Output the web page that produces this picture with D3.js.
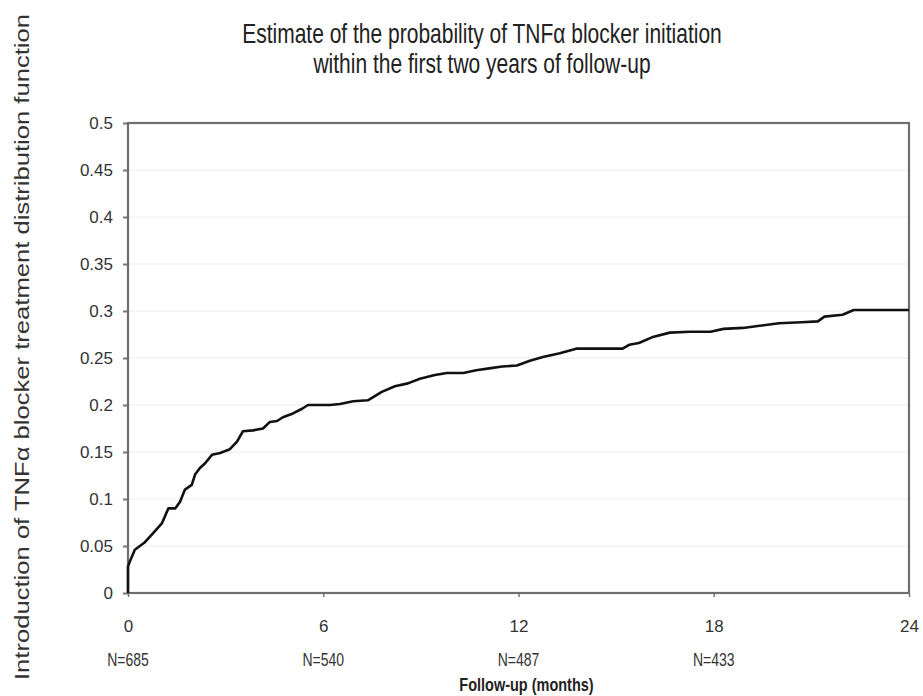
<!DOCTYPE html>
<html>
<head>
<meta charset="utf-8">
<script src="https://cdn.jsdelivr.net/npm/d3@7"></script>
<style>
  html, body { margin: 0; padding: 0; background: #fff; }
  svg { display: block; }
  text { font-family: "Liberation Sans", Arial, sans-serif; }
</style>
</head>
<body>
<svg id="chart" width="923" height="696"></svg>
<script>
// ---- data ----
const titleLines = ["Estimate of the probability of TNF\u03B1 blocker initiation",
                    "within the first two years of follow-up"];
const yAxisTitle = "Introduction of TNF\u03B1 blocker treatment distribution function";
const xAxisTitle = "Follow-up (months)";
const xTickValues = [0, 6, 12, 18, 24];
const yTickValues = [0, 0.05, 0.1, 0.15, 0.2, 0.25, 0.3, 0.35, 0.4, 0.45, 0.5];
const atRiskMonths = [0, 6, 12, 18];
const atRiskLabels = ["N=685", "N=540", "N=487", "N=433"];
const months = [0, 0, 0.05, 0.21, 0.52, 0.78, 1.04, 1.24, 1.45, 1.60, 1.75, 1.96, 2.06, 2.21, 2.37, 2.58,
  2.83, 3.13, 3.35, 3.53, 3.84, 4.15, 4.36, 4.58, 4.76, 5.07, 5.35, 5.53, 6.20, 6.51, 6.92, 7.37,
  7.80, 8.20, 8.60, 8.97, 9.43, 9.80, 10.30, 10.70, 11.10, 11.50, 11.95, 12.35, 12.75, 13.27, 13.80,
  15.20, 15.40, 15.70, 16.10, 16.65, 17.26, 17.90, 18.30, 18.90, 19.35, 20.00, 20.70, 21.20, 21.40,
  21.96, 22.30, 24.00];
const probability = [0, 0.028, 0.033, 0.046, 0.054, 0.064, 0.074, 0.090, 0.090, 0.097, 0.110, 0.115, 0.126, 0.133, 0.138, 0.147,
  0.149, 0.153, 0.161, 0.172, 0.173, 0.175, 0.182, 0.183, 0.187, 0.191, 0.196, 0.200, 0.200, 0.201, 0.204, 0.205,
  0.214, 0.220, 0.223, 0.228, 0.232, 0.234, 0.234, 0.237, 0.239, 0.241, 0.242, 0.247, 0.251, 0.255, 0.260,
  0.260, 0.264, 0.266, 0.272, 0.277, 0.278, 0.278, 0.281, 0.282, 0.284, 0.287, 0.288, 0.289, 0.294,
  0.296, 0.301, 0.301];

// ---- layout ----
const svg = d3.select("#chart");
const pLeft = 128, pRight = 909, pTop = 123, pBottom = 593;
const x = d3.scaleLinear().domain([0, 24]).range([pLeft, pRight]);
const y = d3.scaleLinear().domain([0, 0.5]).range([pBottom, pTop]);
const stretch = 1.3; // text in the source appears vertically elongated

// gridlines
svg.append("g")
  .selectAll("line")
  .data(yTickValues.filter(v => v > 0 && v < 0.5))
  .join("line")
  .attr("x1", pLeft).attr("x2", pRight)
  .attr("y1", d => y(d)).attr("y2", d => y(d))
  .attr("stroke", "#ececec").attr("stroke-width", 1);

// y axis
const yAxis = d3.axisLeft(y).tickValues(yTickValues).tickSize(5).tickPadding(10)
  .tickFormat(d => String(+d.toFixed(2)));
const gy = svg.append("g").attr("transform", `translate(${pLeft},0)`).call(yAxis);
gy.select(".domain").remove();
gy.selectAll(".tick line").attr("stroke", "#777").attr("stroke-width", 2);
gy.selectAll(".tick text").attr("font-size", 17).attr("fill", "#333");

// x axis
const xAxis = d3.axisBottom(x).tickValues(xTickValues).tickSize(4).tickPadding(23);
const gx = svg.append("g").attr("transform", `translate(0,${pBottom})`).call(xAxis);
gx.select(".domain").remove();
gx.selectAll(".tick line").attr("stroke", "#777").attr("stroke-width", 1.5);
gx.selectAll(".tick text").attr("font-size", 17).attr("fill", "#333");

// plot frame
svg.append("rect")
  .attr("x", pLeft).attr("y", pTop)
  .attr("width", pRight - pLeft).attr("height", pBottom - pTop)
  .attr("fill", "none").attr("stroke", "#6e6e6e").attr("stroke-width", 2.2);

// curve
const line = d3.line().x(d => x(d[0])).y(d => y(d[1]));
svg.append("path")
  .datum(months.map((m, i) => [m, probability[i]]))
  .attr("d", line)
  .attr("fill", "none").attr("stroke", "#111").attr("stroke-width", 2.6)
  .attr("stroke-linejoin", "round");

// at-risk numbers
svg.append("g").selectAll("text")
  .data(atRiskMonths)
  .join("text")
  .attr("transform", d => `translate(${x(d)},666) scale(1,${stretch})`)
  .attr("text-anchor", "middle").attr("font-size", 14).attr("fill", "#333")
  .text((d, i) => atRiskLabels[i]);

// x axis title
svg.append("text")
  .attr("transform", `translate(${x(12) + 8},691) scale(1,${stretch})`)
  .attr("text-anchor", "middle").attr("font-size", 14.5).attr("font-weight", "bold").attr("fill", "#222")
  .text(xAxisTitle);

// y axis title
svg.append("text")
  .attr("transform", "translate(29,347) scale(1,1.22) rotate(-90)")
  .attr("text-anchor", "middle").attr("font-size", 21).attr("fill", "#333")
  .text(yAxisTitle);

// chart title
svg.append("g").selectAll("text")
  .data(titleLines)
  .join("text")
  .attr("transform", (d, i) => `translate(482,${43 + i * 30}) scale(1,${stretch})`)
  .attr("text-anchor", "middle").attr("font-size", 21).attr("fill", "#222")
  .text(d => d);
</script>
</body>
</html>
